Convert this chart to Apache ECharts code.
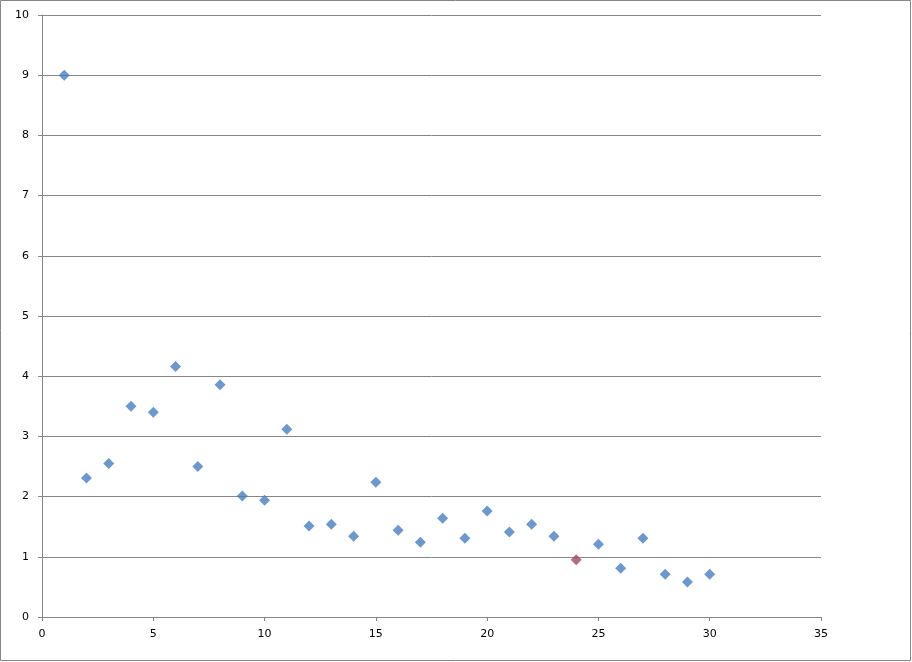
<!DOCTYPE html>
<html><head><meta charset="utf-8">
<script src="https://cdn.jsdelivr.net/npm/echarts@6/dist/echarts.min.js"></script>
<style>html,body{margin:0;padding:0;background:#fff}#c{width:912px;height:662px}</style>
</head><body><div id="c"></div>
<script>
const xValues = [1,2,3,4,5,6,7,8,9,10,11,12,13,14,15,16,17,18,19,20,21,22,23,24,25,26,27,28,29,30];
const yValues = [9.0,2.31,2.55,3.50,3.40,4.16,2.50,3.86,2.01,1.94,3.12,1.51,1.54,1.34,2.24,1.44,1.24,1.64,1.31,1.76,1.41,1.54,1.34,0.95,1.21,0.81,1.31,0.71,0.58,0.71];
const highlightX = 24;

const blue = [], red = [];
xValues.forEach((x, i) => {
  (x === highlightX ? red : blue).push([x, yValues[i]]);
});

const chart = echarts.init(document.getElementById('c'));
const axisCol = '#868686';
chart.setOption({
  animation: false,
  grid: {left: 42, right: 91, top: 15, bottom: 45},
  graphic: [{type: 'rect', shape: {x: 0.5, y: 0.5, width: 910, height: 660},
    style: {fill: 'none', stroke: '#868686', lineWidth: 1}, silent: true}],
  xAxis: {type: 'value', min: 0, max: 35, interval: 5,
    axisLine: {lineStyle: {color: axisCol}},
    axisTick: {show: true, length: 4, lineStyle: {color: axisCol}},
    splitLine: {show: false},
    axisLabel: {color: '#000', fontSize: 11, fontFamily: 'DejaVu Sans', margin: 12}},
  yAxis: {type: 'value', min: 0, max: 10, interval: 1,
    axisLine: {show: true, lineStyle: {color: axisCol}},
    axisTick: {show: true, length: 4, lineStyle: {color: axisCol}},
    splitLine: {show: true, lineStyle: {color: axisCol}},
    axisLabel: {color: '#000', fontSize: 11, fontFamily: 'DejaVu Sans', margin: 13}},
  series: [
    {type: 'scatter', symbol: 'diamond', symbolSize: 11, data: blue,
     itemStyle: {color: '#4A7EBB'}},
    {type: 'scatter', symbol: 'diamond', symbolSize: 11, data: red,
     itemStyle: {color: '#9E4A5C'}}
  ]
});
</script></body></html>
